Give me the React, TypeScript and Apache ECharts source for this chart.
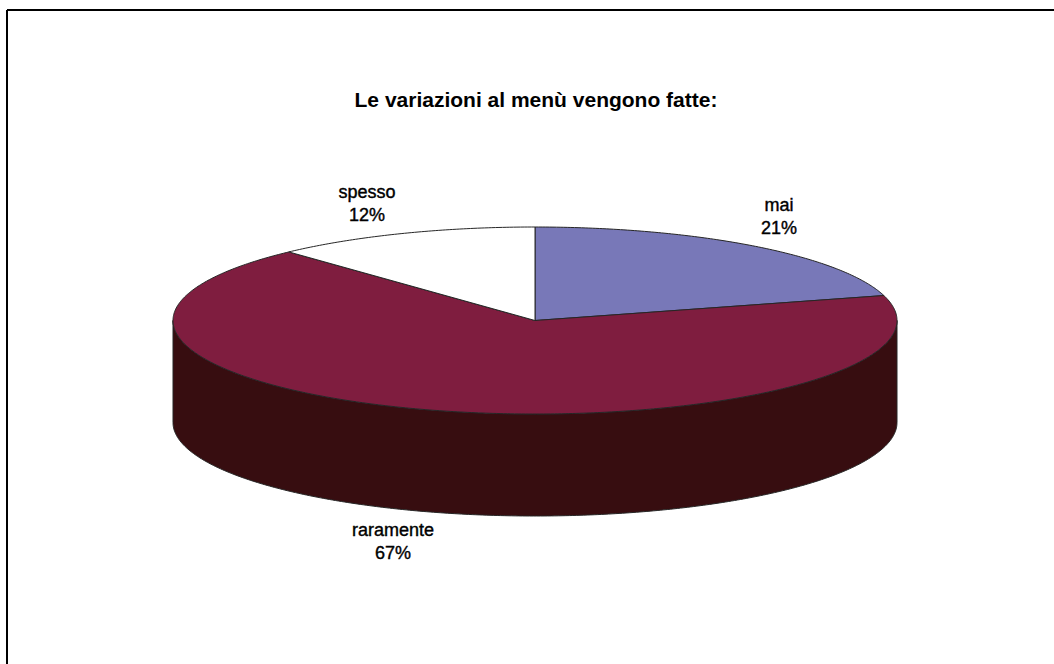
import React, { useEffect, useRef } from "react";
import * as echarts from "echarts";

const categories = ["mai", "raramente", "spesso"];
const percentages = [20.7, 67.4, 11.9];
const sliceColors = ["#7878B8", "#7F1D3F", "#FFFFFF"];
const sideColors = ["#3C3C5C", "#370D10", "#808080"];
const titleText = "Le variazioni al menù vengono fatte:";
const FONT = "'Liberation Sans', Arial, sans-serif";

const CX = 535, CY = 320.5, RX = 362, RY = 93.5, DEPTH = 102;
const pt = (t: number, dy = 0): number[] => [CX + RX * Math.sin(t), CY - RY * Math.cos(t) + dy];

function arcPts(a: number, b: number, dy = 0): number[][] {
  const n = Math.max(2, Math.ceil(Math.abs(b - a) / 0.01));
  const out: number[][] = [];
  for (let i = 0; i <= n; i++) out.push(pt(a + ((b - a) * i) / n, dy));
  return out;
}

const total = percentages.reduce((s, v) => s + v, 0);

const renderItem = (params: any, api: any) => {
  const idx = params.dataIndex;
  let acc = 0;
  for (let i = 0; i < idx; i++) acc += percentages[i];
  const a = (acc / total) * 2 * Math.PI;
  const b = a + (api.value(1) / total) * 2 * Math.PI;
  const children: any[] = [];
  const lineStyle = { stroke: "#262626", lineWidth: 1, lineJoin: "round" };
  const s = Math.max(a, Math.PI / 2);
  const e = Math.min(b, (3 * Math.PI) / 2);
  if (e > s) {
    children.push({
      type: "polygon",
      shape: { points: [...arcPts(s, e), ...arcPts(e, s, DEPTH)] },
      style: { fill: sideColors[idx], ...lineStyle },
    });
  }
  children.push({
    type: "polygon",
    shape: { points: [[CX, CY], ...arcPts(a, b)] },
    style: { fill: sliceColors[idx], ...lineStyle },
  });
  return { type: "group", children };
};

export default function App() {
  const ref = useRef<HTMLDivElement>(null);
  useEffect(() => {
    const chart = echarts.init(ref.current!, undefined, { renderer: "svg" });
    const labelAt: Record<string, number[]> = { mai: [779, 216], raramente: [393, 541], spesso: [367, 203] };
    chart.setOption({
      animation: false,
      backgroundColor: "#FFFFFF",
      title: {
        text: titleText,
        left: 531,
        top: 84,
        textAlign: "center",
        textStyle: { fontFamily: FONT, fontSize: 21, fontWeight: "bold", color: "#000" },
      },
      graphic: [
        { type: "line", shape: { x1: 7, y1: 10, x2: 1054, y2: 10 }, style: { stroke: "#000", lineWidth: 2 } },
        { type: "line", shape: { x1: 7, y1: 10, x2: 7, y2: 664 }, style: { stroke: "#000", lineWidth: 2 } },
        ...categories.map((c, i) => ({
          type: "text",
          x: labelAt[c][0],
          y: labelAt[c][1],
          style: {
            text: `${c}\n${Math.round(percentages[i])}%`,
            fontFamily: FONT,
            fontSize: 18,
            fontWeight: "normal",
            lineHeight: 23,
            align: "center",
            verticalAlign: "middle",
            fill: "#000",
            stroke: "#000",
            lineWidth: 0.4,
          },
        })),
      ],
      series: [
        {
          type: "custom",
          coordinateSystem: "none",
          renderItem,
          data: categories.map((c, i) => ({ name: c, value: [i, percentages[i]] })),
        },
      ],
    });
    return () => chart.dispose();
  }, []);
  return <div ref={ref} style={{ position: "fixed", left: 0, top: 0, width: 1054, height: 664 }} />;
}
